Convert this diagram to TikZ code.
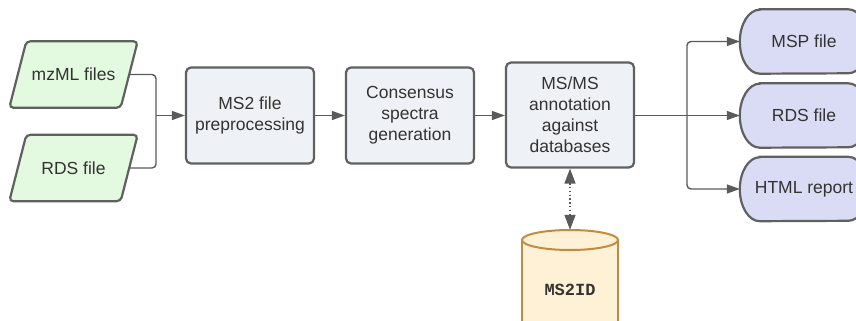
\documentclass[tikz,border=0pt]{standalone}
\usepackage{fontspec}
\setmainfont{Liberation Sans}
\newfontfamily\monob{Liberation Mono}
\usetikzlibrary{arrows.meta}
\pgfdeclarelayer{background}
\pgfsetlayers{background,main}
\definecolor{strokegray}{HTML}{606060}
\definecolor{linegray}{HTML}{5A5A5A}
\definecolor{txt}{HTML}{333333}
\definecolor{greenfill}{HTML}{E3F9E0}
\definecolor{boxfill}{HTML}{EEF2F6}
\definecolor{termfill}{HTML}{D9DCF4}
\definecolor{cylfill}{HTML}{FFF1D6}
\definecolor{cylline}{HTML}{C48B3F}
\tikzset{
  base/.style={font=\fontsize{17.5}{21}\selectfont, text=txt, align=center, inner sep=0pt},
  inputtext/.style={base, minimum width=111pt, minimum height=66pt},
  inputshape/.style={draw=strokegray, line width=2.2pt, fill=greenfill, rounded corners=4pt},
  procbox/.style={base, rectangle, draw=strokegray, line width=2.2pt, fill=boxfill,
    rounded corners=5pt, minimum width=128pt, minimum height=96pt},
  termtext/.style={base, minimum width=128pt, minimum height=64pt},
  termshape/.style={draw=strokegray, line width=2.2pt, fill=termfill},
  conn/.style={draw=linegray, line width=1.4pt, rounded corners=4pt,
    -{Triangle[length=13pt,width=9pt]}},
  connplain/.style={draw=linegray, line width=1.4pt, rounded corners=4pt},
  dbarrow/.style={draw=linegray, line width=1.4pt, dash pattern=on 1.4pt off 2.4pt,
    {Triangle[length=15pt,width=11pt]}-{Triangle[length=15pt,width=11pt]}},
}
\begin{document}
\begin{tikzpicture}[x=1pt,y=-1pt]
\useasboundingbox (0,0) rectangle (856,321);
\clip (0,0) rectangle (856,321);
% inputs (text nodes; parallelograms drawn behind)
\node[inputtext] (mz) at (73.5,74.5) {mzML files};
\node[inputtext] (rds) at (73.5,168) {RDS file};
% processes
\node[procbox] (ms2) at (250,115.5) {MS2 file\\preprocessing};
\node[procbox] (cons) at (410,115.5) {Consensus\\spectra\\generation};
\node[procbox, minimum height=105pt] (mm) at (570,115) {MS/MS\\annotation\\against\\databases};
% outputs (text nodes; terminator shapes drawn behind)
\node[termtext] (msp) at (804,41.5) {MSP file};
\node[termtext] (rdso) at (804,115.5) {RDS file};
\node[termtext] (html) at (804,189) {HTML report};
\begin{pgfonlayer}{background}
  \foreach \n in {mz,rds}{
    \draw[inputshape] ([xshift=-8.5pt]\n.south west) -- ([xshift=-8.5pt]\n.south east)
      -- ([xshift=8.5pt]\n.north east) -- ([xshift=8.5pt]\n.north west) -- cycle;
  }
  \foreach \n in {msp,rdso,html}{
    \draw[termshape] ([xshift=20pt]\n.north west) -- ([xshift=-20pt]\n.north east)
      arc[start angle=90, end angle=-90, x radius=20pt, y radius=32pt]
      -- ([xshift=20pt]\n.south west)
      arc[start angle=270, end angle=90, x radius=20pt, y radius=32pt] -- cycle;
  }
\end{pgfonlayer}
% database
\path[fill=cylfill] (522,240) rectangle (618,360);
\draw[cylline, line width=2pt] (522,240) -- (522,360) (618,240) -- (618,360);
\draw[cylline, line width=2pt, fill=cylfill] (570,240) ellipse[x radius=48, y radius=10];
\node[inner sep=0pt, minimum width=96pt, minimum height=120pt, text=txt,
  font=\monob\bfseries\fontsize{17}{20}\selectfont] (db) at (570,290) {MS2ID};
% junctions
\coordinate (j1) at (156,115.5);
\coordinate (j2) at (687,115.5);
% connectors
\draw[connplain] (mz.east) -| (j1);
\draw[connplain] (rds.east) -| (j1);
\draw[conn] (j1) -- (ms2.west);
\draw[conn] (ms2.east) -- (cons.west);
\draw[conn] (cons.east) -- (mm.west |- cons.east);
\draw[connplain] (mm.east |- j2) -- (j2);
\draw[conn] (j2) |- (msp.west);
\draw[conn] (j2) -- (rdso.west);
\draw[conn] (j2) |- (html.west);
\draw[dbarrow] (mm.south) -- (db.north);
\end{tikzpicture}
\end{document}
